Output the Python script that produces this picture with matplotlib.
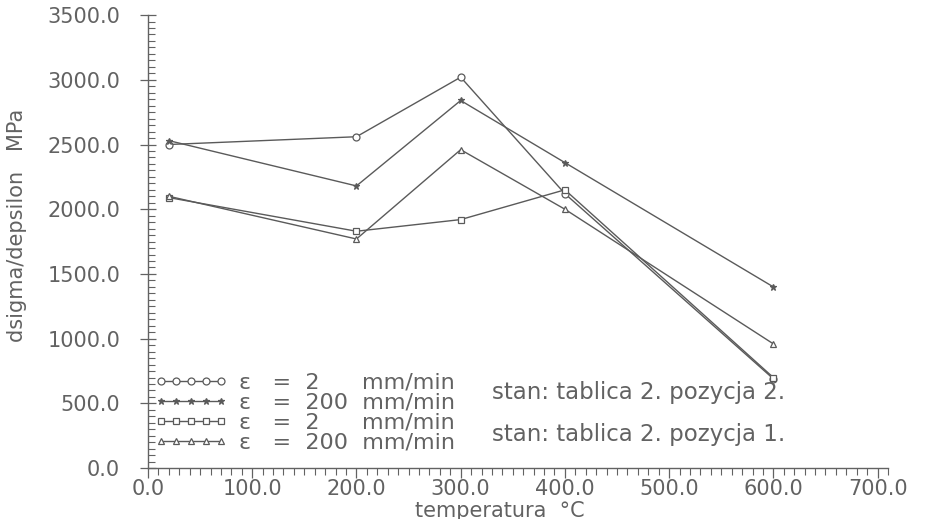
import matplotlib
matplotlib.use("Agg")
import matplotlib.pyplot as plt
from matplotlib.ticker import MultipleLocator, FormatStrFormatter

# temperatures of the tests and dsigma/depsilon values (MPa)
temps = [20, 200, 300, 400, 600]
v2_poz2 = [2500, 2560, 3020, 2120, 690]
v200_poz2 = [2530, 2180, 2840, 2360, 1400]
v2_poz1 = [2090, 1830, 1920, 2150, 700]
v200_poz1 = [2100, 1770, 2460, 2000, 960]

rates = ["2", "200", "2", "200"]
stan_labels = ["stan: tablica 2. pozycja 2.", "stan: tablica 2. pozycja 1."]

ink = "#626262"
line_c = "#5a5a5a"
plt.rcParams["font.family"] = ["DejaVu Sans"]

fig = plt.figure(figsize=(9.25, 5.19), dpi=100)
ax = fig.add_axes([0.16, 0.098, 0.80, 0.873])

series = [
    (v2_poz2, "o", "white"),
    (v200_poz2, "*", line_c),
    (v2_poz1, "s", "white"),
    (v200_poz1, "^", "white"),
]
handles = []
for vals, mk, face in series:
    h, = ax.plot(temps, vals, color=line_c, lw=1.0, marker=mk, ms=5,
                 mfc=face, mec=line_c, mew=0.9)
    handles.append(h)

# pad the short rate with figure spaces so the units line up
labels = []
for r in rates:
    pad = "\u2007" * (3 - len(r))
    labels.append("\u03b5   =  " + r + pad + "  mm/min")

leg = ax.legend(handles, labels, loc="lower left", bbox_to_anchor=(0.008, 0.035),
                frameon=False, numpoints=5, handlelength=3.3, handletextpad=0.55,
                labelspacing=0.0, borderpad=0, borderaxespad=0, fontsize=16)
for t in leg.get_texts():
    t.set_color(ink)

ax.text(0.465, 0.166, stan_labels[0], transform=ax.transAxes, fontsize=16.5,
        color=ink, va="center", ha="left")
ax.text(0.465, 0.075, stan_labels[1], transform=ax.transAxes, fontsize=16.5,
        color=ink, va="center", ha="left")

ax.set_xlim(0, 710)
ax.set_ylim(0, 3500)
ax.xaxis.set_major_locator(MultipleLocator(100))
ax.xaxis.set_minor_locator(MultipleLocator(10))
ax.yaxis.set_major_locator(MultipleLocator(500))
ax.yaxis.set_minor_locator(MultipleLocator(50))
ax.xaxis.set_major_formatter(FormatStrFormatter("%.1f"))
ax.yaxis.set_major_formatter(FormatStrFormatter("%.1f"))

for s in ["top", "right"]:
    ax.spines[s].set_visible(False)
for s in ["left", "bottom"]:
    ax.spines[s].set_color(ink)
    ax.spines[s].set_linewidth(1.0)

ax.tick_params(axis="x", which="major", direction="out", length=7, width=0.9,
               colors=ink, labelsize=15, pad=1)
ax.tick_params(axis="x", which="minor", direction="out", length=5, width=0.8, colors=ink)
ax.tick_params(axis="y", which="major", direction="inout", length=12, width=0.9,
               colors=ink, labelsize=15, pad=14)
ax.tick_params(axis="y", which="minor", direction="in", length=5, width=0.8, colors=ink)

ax.set_xlabel("temperatura  \u00b0C", fontsize=15, color=ink)
ax.set_ylabel("dsigma/depsilon   MPa", fontsize=15, color=ink)
ax.xaxis.set_label_coords(0.476, -0.072)
ax.yaxis.set_label_coords(-0.163, 0.535)

fig.savefig("out.png", dpi=100, facecolor="white")
